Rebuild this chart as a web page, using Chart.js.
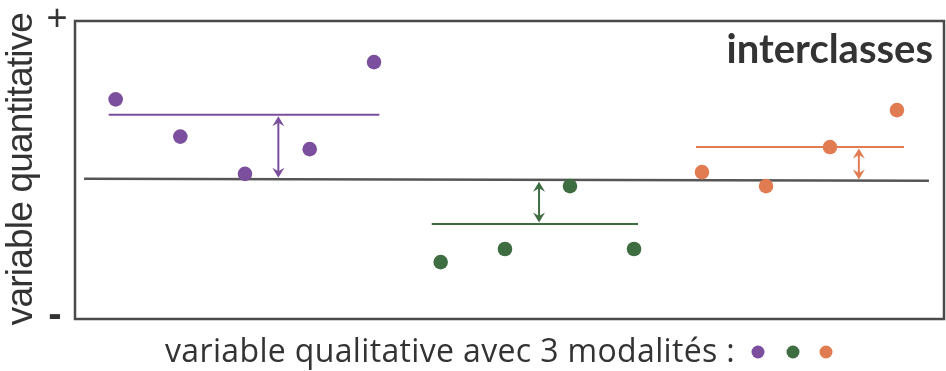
<!DOCTYPE html>
<html>
<head>
<meta charset="utf-8">
<script src="https://cdn.jsdelivr.net/npm/chart.js@4/dist/chart.umd.min.js"></script>
<style>
  html, body { margin: 0; padding: 0; background: #fff; }
  #wrap { width: 946px; height: 371px; }
</style>
</head>
<body>
<div id="wrap"><canvas id="anovaChart" width="946" height="371"></canvas></div>
<script>
// individual observations, per group (x = position along the axis, y = value)
var purpleX = [4.68, 12.12, 19.56, 27.01, 34.41];
var purpleY = [73.7, 61.2, 48.7, 57.0, 86.2];
var greenX = [42.08, 49.48, 56.96, 64.33];
var greenY = [19.1, 23.5, 44.6, 23.5];
var orangeX = [72.15, 79.52, 86.88, 94.59];
var orangeY = [49.3, 44.6, 57.7, 70.1];

// group means (horizontal segments)
var meanStart = [3.88, 41.05, 71.46];
var meanEnd = [35.02, 64.79, 95.40];
var meanY = [68.5, 31.9, 57.7];

// overall mean line
var overallX = [1.04, 98.27];
var overallY = [47.1, 46.4];

// arrows between group mean and overall mean
var arrowX = [23.4, 53.4, 90.2];
var arrowTo = [46.9, 46.6, 46.3];

var groupColors = ['#7b4f9d', '#3f6d42', '#e07b52'];
var groupNames = ['modalité 1', 'modalité 2', 'modalité 3'];

function pts(xs, ys) {
    return xs.map(function (x, i) { return { x: x, y: ys[i] }; });
}

var datasets = [];
[[purpleX, purpleY], [greenX, greenY], [orangeX, orangeY]].forEach(function (g, i) {
    datasets.push({
        label: groupNames[i],
        data: pts(g[0], g[1]),
        backgroundColor: groupColors[i],
        borderColor: groupColors[i],
        pointRadius: 7.3,
        pointBorderWidth: 0,
        showLine: false,
        order: 1
    });
    datasets.push({
        label: 'moyenne ' + groupNames[i],
        data: [{ x: meanStart[i], y: meanY[i] }, { x: meanEnd[i], y: meanY[i] }],
        borderColor: groupColors[i],
        borderWidth: 2,
        pointRadius: 0,
        showLine: true,
        order: 2
    });
});
datasets.push({
    label: 'moyenne générale',
    data: pts(overallX, overallY),
    borderColor: '#555555',
    borderWidth: 2.5,
    pointRadius: 0,
    showLine: true,
    order: 3
});

function arrowHead(ctx, x, y, dir) {
    // dir = 1 points up, -1 points down
    ctx.beginPath();
    ctx.moveTo(x, y);
    ctx.lineTo(x - 6, y + dir * 10);
    ctx.lineTo(x, y + dir * 6.5);
    ctx.lineTo(x + 6, y + dir * 10);
    ctx.closePath();
    ctx.fill();
}

var decorPlugin = {
    id: 'decor',
    afterDatasetsDraw: function (chart) {
        var ctx = chart.ctx;
        var xs = chart.scales.x, ys = chart.scales.y;
        ctx.save();
        arrowX.forEach(function (ax, i) {
            var px = xs.getPixelForValue(ax);
            var yTop = ys.getPixelForValue(Math.max(meanY[i], arrowTo[i]));
            var yBot = ys.getPixelForValue(Math.min(meanY[i], arrowTo[i]));
            yTop += 1.5; yBot -= 1.5;
            ctx.strokeStyle = groupColors[i];
            ctx.fillStyle = groupColors[i];
            ctx.lineWidth = 2;
            ctx.beginPath();
            ctx.moveTo(px, yTop + 5);
            ctx.lineTo(px, yBot - 5);
            ctx.stroke();
            arrowHead(ctx, px, yTop, 1);
            arrowHead(ctx, px, yBot, -1);
        });
        ctx.restore();
    },
    afterDraw: function (chart) {
        var ctx = chart.ctx;
        var a = chart.chartArea;
        ctx.save();
        // frame
        ctx.strokeStyle = '#4a4a4a';
        ctx.lineWidth = 2.5;
        ctx.strokeRect(a.left, a.top, a.right - a.left, a.bottom - a.top);

        ctx.fillStyle = '#333333';
        // title inside the frame
        ctx.font = 'bold 40px Lato';
        ctx.textAlign = 'right';
        ctx.textBaseline = 'alphabetic';
        ctx.fillText('interclasses', 933, 63);

        // + and - marks
        ctx.font = '36px "Liberation Sans"';
        ctx.textAlign = 'center';
        ctx.textBaseline = 'middle';
        ctx.fillText('+', 57, 20);
        ctx.font = 'bold 40px "Liberation Sans"';
        ctx.fillText('-', 55, 316);

        // y axis title
        ctx.save();
        ctx.translate(32, 169);
        ctx.rotate(-Math.PI / 2);
        ctx.font = '37px "Liberation Sans"';
        ctx.letterSpacing = '-0.8px';
        ctx.textAlign = 'center';
        ctx.textBaseline = 'alphabetic';
        ctx.fillText('variable quantitative', 0, 0);
        ctx.restore();

        // x axis title + colour key
        ctx.font = '32px "Open Sans"';
        var label = 'variable qualitative avec 3 modalités :';
        var w = ctx.measureText(label).width;
        ctx.letterSpacing = ((570 - w) / label.length).toFixed(2) + 'px';
        ctx.textAlign = 'left';
        ctx.textBaseline = 'alphabetic';
        ctx.fillText(label, 165, 362);
        ctx.letterSpacing = '0px';
        var keyX = [758, 793, 826];
        keyX.forEach(function (kx, i) {
            ctx.fillStyle = groupColors[i];
            ctx.beginPath();
            ctx.arc(kx, 352, 6.5, 0, Math.PI * 2);
            ctx.fill();
        });
        ctx.restore();
    }
};

var ctx = document.getElementById('anovaChart').getContext('2d');
var anovaChart = new Chart(ctx, {
    type: 'scatter',
    data: { datasets: datasets },
    options: {
        responsive: false,
        animation: false,
        layout: { autoPadding: false, padding: { left: 75, right: 2, top: 21, bottom: 52 } },
        plugins: {
            legend: false,
            tooltip: false
        },
        scales: {
            x: { type: 'linear', min: 0, max: 100, display: false },
            y: { type: 'linear', min: 0, max: 100, display: false }
        },
        elements: { line: { tension: 0 } }
    },
    plugins: [decorPlugin]
});
</script>
</body>
</html>
